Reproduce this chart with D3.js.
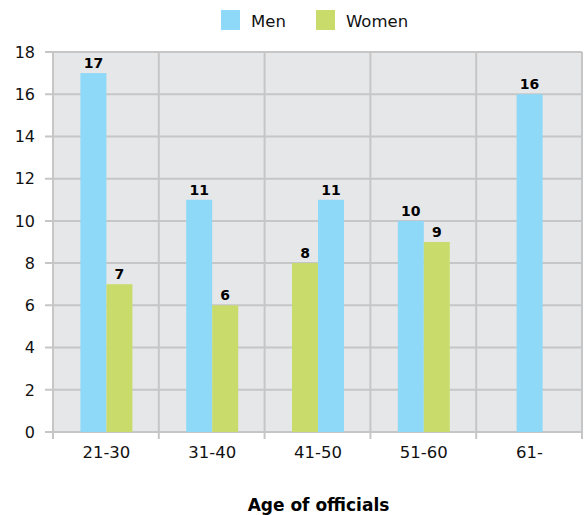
<!DOCTYPE html>
<html>
<head>
<meta charset="utf-8">
<script src="https://cdn.jsdelivr.net/npm/d3@7"></script>
<style>
  body { margin: 0; background: #fff; }
  text { font-family: "DejaVu Sans", Verdana, sans-serif; }
</style>
</head>
<body>
<div id="chart"></div>
<script>
// data
var ageGroups = ["21-30", "31-40", "41-50", "51-60", "61-"];
var men   = [17, 11, 11, 10, 16];
var women = [7, 6, 8, 9, null];
// which series is drawn first (left) in each group
var firstSeries = ["Men", "Men", "Women", "Men", "Men"];
var yTicks = [0, 2, 4, 6, 8, 10, 12, 14, 16, 18];

var W = 584, H = 515;
var margin = {top: 52, left: 53, right: 2, bottom: 83};
var w = W - margin.left - margin.right,
    h = H - margin.top - margin.bottom;

var colors = {Men: "#8ed8f8", Women: "#c9dc6b"};

var svg = d3.select("#chart").append("svg")
    .attr("width", W).attr("height", H);

var x = d3.scaleBand().domain(ageGroups).range([0, w]);
var y = d3.scaleLinear().domain([0, 18]).range([h, 0]);
var barW = 26;

var g = svg.append("g")
    .attr("transform", "translate(" + margin.left + "," + margin.top + ")");

// background
g.append("rect")
    .attr("x", 0).attr("y", 0)
    .attr("width", w).attr("height", h)
    .attr("fill", "#e6e7e9");

// horizontal gridlines + left ticks
g.selectAll("line.hgrid")
    .data(yTicks)
    .enter().append("line")
    .attr("class", "hgrid")
    .attr("x1", -8).attr("x2", w)
    .attr("y1", function(d) { return y(d); })
    .attr("y2", function(d) { return y(d); })
    .attr("stroke", "#c6c6c6").attr("stroke-width", 2);

// vertical dividers
var bounds = ageGroups.map(function(d) { return x(d); }).concat([w]);
g.selectAll("line.vgrid")
    .data(bounds)
    .enter().append("line")
    .attr("class", "vgrid")
    .attr("x1", function(d) { return d; })
    .attr("x2", function(d) { return d; })
    .attr("y1", 0).attr("y2", h + 7)
    .attr("stroke", "#c6c6c6").attr("stroke-width", 2);

// y tick labels
g.selectAll("text.ylab")
    .data(yTicks)
    .enter().append("text")
    .attr("class", "ylab")
    .attr("x", -18)
    .attr("y", function(d) { return y(d); })
    .attr("dy", "0.36em")
    .attr("text-anchor", "end")
    .attr("font-size", "16px")
    .attr("fill", "#111")
    .text(function(d) { return d; });

// build bars
var bars = [];
ageGroups.forEach(function(grp, i) {
    var items = [];
    if (men[i] != null) items.push({s: "Men", v: men[i]});
    if (women[i] != null) items.push({s: "Women", v: women[i]});
    items.sort(function(a, b) {
        return (a.s === firstSeries[i] ? 0 : 1) - (b.s === firstSeries[i] ? 0 : 1);
    });
    var cx = x(grp) + x.bandwidth() / 2 + 0.5;
    var start = cx - items.length * barW / 2;
    items.forEach(function(it, k) {
        bars.push({grp: grp, s: it.s, v: it.v, x: start + k * barW});
    });
});

g.selectAll("rect.bar")
    .data(bars)
    .enter().append("rect")
    .attr("class", "bar")
    .attr("x", function(d) { return d.x; })
    .attr("y", function(d) { return y(d.v); })
    .attr("width", barW)
    .attr("height", function(d) { return h - y(d.v); })
    .attr("fill", function(d) { return colors[d.s]; });

g.selectAll("text.val")
    .data(bars)
    .enter().append("text")
    .attr("class", "val")
    .attr("x", function(d) { return d.x + barW / 2; })
    .attr("y", function(d) { return y(d.v) - 5; })
    .attr("text-anchor", "middle")
    .attr("font-size", "14px")
    .attr("font-weight", "bold")
    .attr("fill", "#000")
    .text(function(d) { return d.v; });

// x labels
g.selectAll("text.xlab")
    .data(ageGroups)
    .enter().append("text")
    .attr("class", "xlab")
    .attr("x", function(d) { return x(d) + x.bandwidth() / 2 + 0.5; })
    .attr("y", h + 26)
    .attr("text-anchor", "middle")
    .attr("font-size", "16.5px")
    .attr("fill", "#111")
    .text(function(d) { return d; });

// axis title
g.append("text")
    .attr("x", w / 2 + 1)
    .attr("y", h + 79)
    .attr("text-anchor", "middle")
    .attr("font-size", "17px")
    .attr("font-weight", "bold")
    .attr("fill", "#000")
    .text("Age of officials");

// legend
var legend = svg.append("g");
var legItems = [{s: "Men", x: 221}, {s: "Women", x: 316}];
legItems.forEach(function(d) {
    legend.append("rect")
        .attr("x", d.x).attr("y", 10)
        .attr("width", 19).attr("height", 20)
        .attr("fill", colors[d.s]);
    legend.append("text")
        .attr("x", d.x + 30).attr("y", 27)
        .attr("font-size", "16.5px")
        .attr("fill", "#111")
        .text(d.s);
});
</script>
</body>
</html>
